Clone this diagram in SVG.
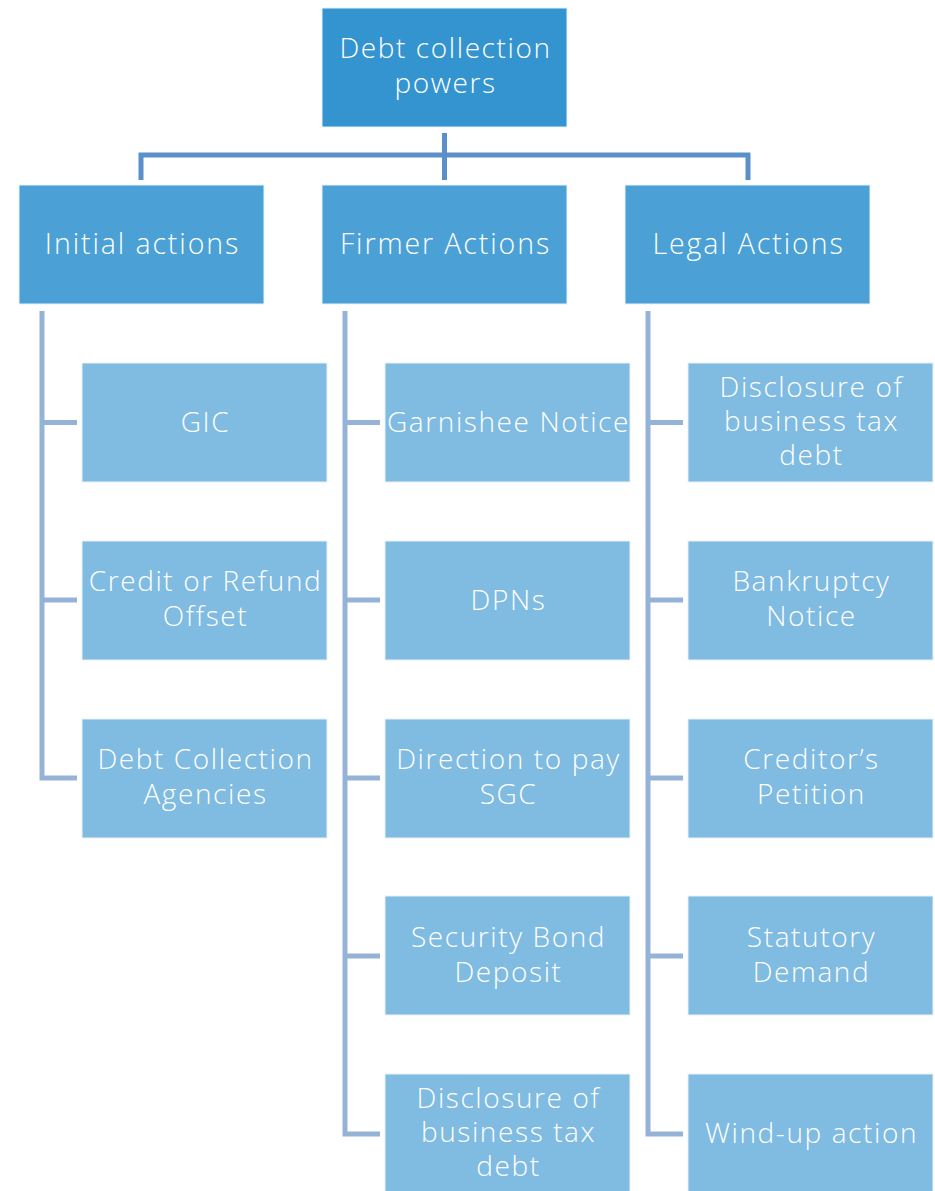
<svg xmlns="http://www.w3.org/2000/svg" width="935" height="1191" viewBox="0 0 935 1191">
<style>
.root{fill:#3494d0;stroke:#e6f1fa;stroke-width:1}
.l1{fill:#4ba1d6;stroke:#e6f1fa;stroke-width:1}
.c{fill:#80bbe1;stroke:#e6f1fa;stroke-width:1}
text{font-family:"Open Sans","Noto Sans","Liberation Sans",sans-serif;font-weight:300;fill:#ffffff;text-anchor:middle;font-size:28px;letter-spacing:1.6px}
.big{font-size:28.5px;letter-spacing:1.9px}
.top{fill:none;stroke:#5b8fca;stroke-width:5}
.sub{fill:none;stroke:#95b3d7;stroke-width:5}
</style>
<g id="connectors">
<path class="top" d="M444.5,133 V180 M141,180 V155 H748 V180"/>
<path class="sub" d="M42,311 V778 H77 M42,422.5 H77 M42,600 H77"/>
<path class="sub" d="M345,311 V1134 H380 M345,422.5 H380 M345,600 H380 M345,778 H380 M345,956 H380"/>
<path class="sub" d="M648,311 V1134 H683 M648,422.5 H683 M648,600 H683 M648,778 H683 M648,956 H683"/>
</g>
<g id="root"><rect class="root" x="322" y="8" width="245" height="119"/><text x="445.5" y="58">Debt collection</text><text x="445.5" y="93">powers</text></g>
<g id="initial"><rect class="l1" x="19" y="185" width="245" height="119"/><text class="big" x="142.5" y="254">Initial actions</text></g>
<g id="firmer"><rect class="l1" x="322" y="185" width="245" height="119"/><text class="big" x="445.5" y="254">Firmer Actions</text></g>
<g id="legal"><rect class="l1" x="625" y="185" width="245" height="119"/><text class="big" x="748.5" y="254">Legal Actions</text></g>

<g id="gic"><rect class="c" x="82" y="363" width="245" height="119"/><text x="205.5" y="432">GIC</text></g>
<g id="credit"><rect class="c" x="82" y="541" width="245" height="119"/><text x="205.5" y="591">Credit or Refund</text><text x="205.5" y="626">Offset</text></g>
<g id="agencies"><rect class="c" x="82" y="719" width="245" height="119"/><text x="205.5" y="769">Debt Collection</text><text x="205.5" y="804">Agencies</text></g>

<g id="garnishee"><rect class="c" x="385" y="363" width="245" height="119"/><text x="508.5" y="432">Garnishee Notice</text></g>
<g id="dpns"><rect class="c" x="385" y="541" width="245" height="119"/><text x="508.5" y="610">DPNs</text></g>
<g id="direction"><rect class="c" x="385" y="719" width="245" height="119"/><text x="508.5" y="769">Direction to pay</text><text x="508.5" y="804">SGC</text></g>
<g id="security"><rect class="c" x="385" y="896" width="245" height="119"/><text x="508.5" y="947">Security Bond</text><text x="508.5" y="982">Deposit</text></g>
<g id="disclosure1"><rect class="c" x="385" y="1074" width="245" height="119"/><text x="508.5" y="1108">Disclosure of</text><text x="508.5" y="1142">business tax</text><text x="508.5" y="1176">debt</text></g>

<g id="disclosure2"><rect class="c" x="688" y="363" width="245" height="119"/><text x="811.5" y="397">Disclosure of</text><text x="811.5" y="431">business tax</text><text x="811.5" y="465">debt</text></g>
<g id="bankruptcy"><rect class="c" x="688" y="541" width="245" height="119"/><text x="811.5" y="591">Bankruptcy</text><text x="811.5" y="626">Notice</text></g>
<g id="creditor"><rect class="c" x="688" y="719" width="245" height="119"/><text x="811.5" y="769">Creditor’s</text><text x="811.5" y="804">Petition</text></g>
<g id="statutory"><rect class="c" x="688" y="896" width="245" height="119"/><text x="811.5" y="947">Statutory</text><text x="811.5" y="982">Demand</text></g>
<g id="windup"><rect class="c" x="688" y="1074" width="245" height="119"/><text x="811.5" y="1143">Wind-up action</text></g>
</svg>
